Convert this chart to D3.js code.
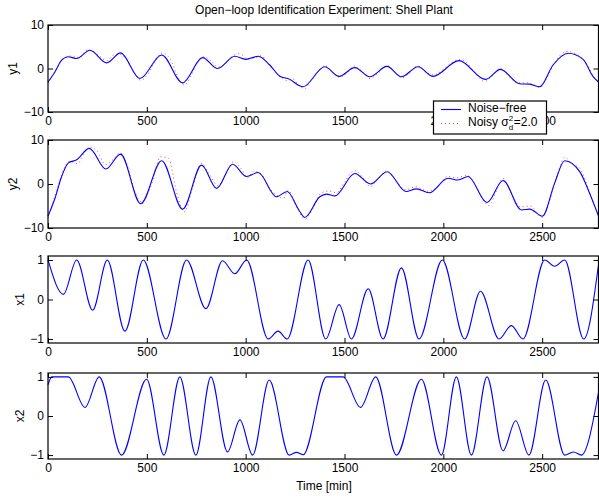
<!DOCTYPE html>
<html><head><meta charset="utf-8">
<script src="https://cdn.jsdelivr.net/npm/d3@7"></script>
<style>
html,body{margin:0;padding:0;background:#fff;}
text{font-family:"Liberation Sans",Arial,Helvetica,sans-serif;}
</style></head>
<body><svg id="c" width="599" height="498"></svg>
<script>
// ---------- DATA ----------
const titleText = "Open\u2212loop Identification Experiment: Shell Plant";
const xLabelText = "Time [min]";
const panelNames = ["y1", "y2", "x1", "x2"];
const xTicks = [0, 500, 1000, 1500, 2000, 2500];
const yTicksBig = [-10, 0, 10];
const yTicksSmall = [-1, 0, 1];
const xMax = 2785;

// noise-free y1 (time, value)
const y1Clean = [[0,-3.1],[35,-0.8],[69,1.9],[102,2.7],[145,2.3],[212,4.2],[297,1.3],[367,3.6],[465,-2.3],[575,3.1],[681,-3.3],[782,2.5],[858,0.0],[945,2.8],[1000,2.1],[1063,2.8],[1122,0.8],[1173,-1.8],[1223,-2.5],[1269,-3.9],[1290,-4.2],[1400,0.4],[1473,-1.8],[1552,0.2],[1628,-1.9],[1715,0.5],[1788,-1.9],[1872,0.4],[1948,-1.8],[2079,1.8],[2214,-2.5],[2289,-0.2],[2386,-3.5],[2437,-3.6],[2487,-4.2],[2555,0.8],[2631,3.5],[2707,2.1],[2757,-1.8],[2785,-3.1]];
// noisy y1
const y1Noisy = [[0,-3.4],[40,-0.3],[80,2.4],[120,2.9],[160,2.5],[200,4.3],[240,3.6],[270,2.5],[300,1.8],[330,3.1],[360,3.3],[400,1.9],[440,-1.2],[470,-2.7],[510,-1.0],[550,2.4],[580,3.6],[620,2.0],[660,-2.2],[690,-3.8],[720,-2.0],[760,1.8],[790,2.7],[830,1.5],[860,0.3],[900,1.2],[940,3.1],[970,3.4],[1010,2.2],[1050,2.5],[1080,2.9],[1110,1.3],[1150,-0.7],[1180,-2.0],[1210,-2.8],[1240,-2.4],[1270,-4.0],[1300,-4.6],[1330,-2.9],[1370,-0.6],[1400,0.7],[1440,-0.9],[1475,-2.0],[1510,-1.1],[1550,0.6],[1590,-0.7],[1630,-2.3],[1670,-1.1],[1715,0.7],[1750,-0.6],[1790,-2.2],[1830,-1.0],[1870,0.6],[1910,-0.8],[1950,-1.5],[2000,-0.2],[2040,1.3],[2080,2.1],[2120,1.2],[2160,-1.0],[2210,-3.0],[2250,-1.6],[2290,0.1],[2330,-1.8],[2380,-3.3],[2420,-3.3],[2460,-3.8],[2490,-4.4],[2520,-2.5],[2560,1.1],[2600,3.4],[2630,3.9],[2660,3.6],[2700,2.5],[2730,0.7],[2760,-1.9],[2785,-3.3]];

// noise-free y2
const y2Clean = [[0,-7.3],[35,-3.3],[69,1.7],[103,4.8],[145,5.5],[209,8.1],[293,3.4],[367,6.8],[469,-4.5],[575,5.3],[681,-5.7],[777,4.3],[853,-1.0],[934,4.5],[1004,1.7],[1063,2.6],[1156,-2.9],[1210,-1.7],[1269,-5.9],[1299,-7.6],[1375,-2.9],[1409,-2.3],[1451,-2.7],[1552,2.4],[1631,0.0],[1716,2.8],[1810,-1.7],[1864,-1.1],[1928,-2.0],[2024,1.3],[2074,0.9],[2125,1.7],[2221,-4.2],[2302,0.8],[2395,-5.9],[2437,-5.7],[2501,-7.3],[2563,0.2],[2614,5.3],[2690,2.8],[2740,-2.1],[2785,-7.3]];
// noisy y2
const y2Noisy = [[0,-7.7],[35,-2.8],[70,2.2],[110,5.2],[150,4.6],[180,6.9],[210,8.4],[250,7.4],[290,4.4],[330,5.6],[365,7.1],[400,4.3],[440,-1.8],[475,-4.1],[520,-0.6],[570,6.2],[610,5.8],[650,-1.8],[690,-6.3],[730,-1.2],[775,4.7],[820,2.0],[860,-0.4],[900,2.3],[940,5.1],[975,3.6],[1010,1.4],[1040,2.9],[1080,2.2],[1120,-0.9],[1160,-2.6],[1190,-3.3],[1215,-1.4],[1250,-4.5],[1300,-8.0],[1340,-5.6],[1380,-2.1],[1420,-1.6],[1460,-2.0],[1500,0.4],[1550,3.1],[1590,1.6],[1630,-0.6],[1670,1.2],[1715,3.0],[1760,0.8],[1810,-1.3],[1860,-0.6],[1920,-1.6],[1970,-0.7],[2020,1.7],[2070,1.4],[2120,2.0],[2160,-0.1],[2200,-3.5],[2230,-4.9],[2270,-1.4],[2300,1.3],[2340,-1.8],[2390,-5.2],[2440,-5.0],[2500,-7.6],[2540,-3.5],[2580,2.6],[2615,6.1],[2650,4.6],[2690,3.6],[2730,-0.6],[2760,-4.5],[2785,-7.0]];

// x1
const x1Values = [[0,1.0],[78,0.13],[145,1.0],[226,-0.27],[300,1.0],[389,-0.8],[482,1.0],[597,-1.0],[701,1.0],[799,-0.23],[883,0.98],[945,0.65],[1005,1.0],[1114,-1.0],[1164,-0.8],[1210,-1.0],[1316,1.0],[1405,-1.0],[1473,-0.13],[1535,-1.0],[1620,0.27],[1695,-1.0],[1788,0.8],[1877,-1.0],[1995,1.0],[2108,-1.0],[2188,0.21],[2282,-1.0],[2344,-0.66],[2403,-1.0],[2513,1.0],[2563,0.84],[2614,1.0],[2710,-1.0],[2785,0.88]];
// x2
const x2Values = [[0,0.8],[20,1.0],[103,1.0],[187,0.22],[259,1.0],[372,-1.0],[499,0.94],[586,-1.0],[667,1.0],[748,-1.0],[824,1.0],[908,-0.92],[971,-0.1],[1035,-1.0],[1119,0.92],[1220,-1.0],[1257,-0.93],[1291,-0.99],[1409,1.0],[1493,1.0],[1581,0.22],[1658,1.0],[1763,-1.0],[1889,0.94],[1990,-1.0],[2066,1.0],[2142,-1.0],[2221,1.0],[2302,-0.89],[2366,-0.12],[2433,-1.0],[2518,0.92],[2614,-1.0],[2659,-0.92],[2698,-1.0],[2785,0.6]];

const legendLabels = ["Noise\u2212free", "Noisy \u03c3", "2", "d", "=2.0"];

// ---------- LAYOUT ----------
const svg = d3.select("#c");
const left = 48, right = 598.5;
const panels = [
  {top:25, bottom:112, dom:[-10,10], ticks:yTicksBig, clean:y1Clean, noisy:y1Noisy, name:panelNames[0], lx:12.5},
  {top:140, bottom:228, dom:[-10,10], ticks:yTicksBig, clean:y2Clean, noisy:y2Noisy, name:panelNames[1], lx:12.5},
  {top:256, bottom:343, dom:[-1.1,1.1], ticks:yTicksSmall, clean:x1Values, noisy:null, name:panelNames[2], lx:20},
  {top:373, bottom:459, dom:[-1.1,1.1], ticks:yTicksSmall, clean:x2Values, noisy:null, name:panelNames[3], lx:20}
];
const x = d3.scaleLinear().domain([0, xMax]).range([left, right]);
const fmt = d => (d < 0 ? "\u2212" + Math.abs(d) : String(d));

panels.forEach(p => {
  const y = d3.scaleLinear().domain(p.dom).range([p.bottom, p.top]);
  const g = svg.append("g");
  const line = d3.line().x(d => x(d[0])).y(d => y(d[1])).curve(d3.curveMonotoneX);
  if (p.noisy) {
    g.append("path").attr("d", line(p.noisy)).attr("fill","none")
      .attr("stroke","#ff0000").attr("stroke-width",1).attr("stroke-dasharray","1,3").attr("opacity",0.75);
  }
  g.append("path").attr("d", line(p.clean)).attr("fill","none")
    .attr("stroke","#0000ff").attr("stroke-width",1.1);

  // axes with inward ticks
  const ab = g.append("g").attr("transform",`translate(0,${p.bottom})`)
    .call(d3.axisBottom(x).tickValues(xTicks).tickSize(-5).tickPadding(4).tickFormat(d3.format("d")));
  const at = g.append("g").attr("transform",`translate(0,${p.top})`)
    .call(d3.axisTop(x).tickValues(xTicks).tickSize(-5).tickFormat(""));
  const al = g.append("g").attr("transform",`translate(${left},0)`)
    .call(d3.axisLeft(y).tickValues(p.ticks).tickSize(-5).tickPadding(4).tickFormat(fmt));
  const ar = g.append("g").attr("transform",`translate(${right},0)`)
    .call(d3.axisRight(y).tickValues(p.ticks).tickSize(-5).tickFormat(""));
  [ab,at,al,ar].forEach(a => {
    a.select(".domain").remove();
    a.selectAll("line").attr("stroke","#000");
    a.selectAll("text").attr("fill","#000").attr("font-size","12px").style("font-family","'Liberation Sans',Arial,sans-serif");
  });
  g.append("rect").attr("x",left).attr("y",p.top).attr("width",right-left).attr("height",p.bottom-p.top)
    .attr("fill","none").attr("stroke","#000").attr("stroke-width",1.2);
  g.append("text").attr("transform",`translate(${p.lx},${(p.top+p.bottom)/2}) rotate(-90)`)
    .attr("text-anchor","middle").attr("dy","0.35em").attr("font-size","12px").text(p.name);
});

svg.append("text").attr("x",324).attr("y",14).attr("text-anchor","middle").attr("font-size","12px").text(titleText);
svg.append("text").attr("x",324).attr("y",490).attr("text-anchor","middle").attr("font-size","12px").text(xLabelText);

// legend
const lg = svg.append("g");
lg.append("rect").attr("x",433.5).attr("y",101).attr("width",113).attr("height",33)
  .attr("fill","#fff").attr("stroke","#000").attr("stroke-width",1.2);
lg.append("line").attr("x1",441).attr("x2",461).attr("y1",109.5).attr("y2",109.5).attr("stroke","#0000ff").attr("stroke-width",1.1);
lg.append("line").attr("x1",441).attr("x2",461).attr("y1",123.5).attr("y2",123.5).attr("stroke","#ff0000").attr("stroke-width",1).attr("stroke-dasharray","1,3").attr("opacity",0.75);
lg.append("text").attr("x",468).attr("y",112).attr("font-size","12px").text(legendLabels[0]);
// second entry as one text element with tspans (sigma with stacked super/subscript)
const t2 = lg.append("text").attr("x",468).attr("y",126).attr("font-size","12px");
t2.append("tspan").text(legendLabels[1]);
const w = t2.node().getComputedTextLength();
t2.append("tspan").attr("x",468+w).attr("dy",-5).attr("font-size","8px").text(legendLabels[2]);
t2.append("tspan").attr("x",468+w).attr("dy",9).attr("font-size","8px").text(legendLabels[3]);
t2.append("tspan").attr("x",468+w+5).attr("dy",-4).text(legendLabels[4]);
</script></body></html>
